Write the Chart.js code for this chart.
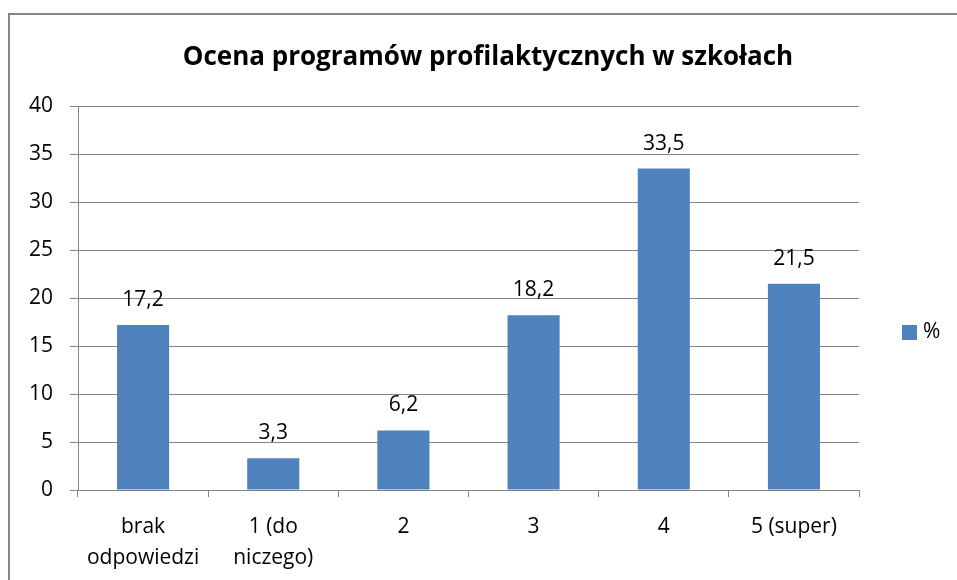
<!DOCTYPE html>
<html>
<head>
<meta charset="utf-8">
<script src="https://cdn.jsdelivr.net/npm/chart.js@4.4.1/dist/chart.umd.min.js"></script>
<style>
html,body{margin:0;padding:0;background:#fff;}
#wrap{width:957px;height:580px;position:relative;}
canvas{display:block;}
</style>
</head>
<body>
<div id="wrap"><canvas id="c" width="957" height="580"></canvas></div>
<script>
const chartTitle = 'Ocena programów profilaktycznych w szkołach';
const categories = [['brak', 'odpowiedzi'], ['1 (do', 'niczego)'], '2', '3', '4', '5 (super)'];
const seriesName = '%';
const values = [17.2, 3.3, 6.2, 18.2, 33.5, 21.5];
const yTicks = [0, 5, 10, 15, 20, 25, 30, 35, 40];

const FONT = "'Open Sans', 'Liberation Sans', sans-serif";
const GRID = '#868686';
const BAR = '#4F81BD';

const framePlugin = {
  id: 'frame',
  beforeDraw(chart) {
    const ctx = chart.ctx;
    ctx.save();
    ctx.fillStyle = '#fff';
    ctx.fillRect(0, 0, chart.width, chart.height);
    ctx.strokeStyle = GRID;
    ctx.lineWidth = 2;
    ctx.strokeRect(9, 14, chart.width + 20, chart.height + 20);
    ctx.restore();
  },
  afterLayout(chart) {
    if (chart.titleBlock) {
      chart.titleBlock.left = 19;
      chart.titleBlock.right = chart.width;
    }
  }
};

const valueLabels = {
  id: 'valueLabels',
  afterDatasetsDraw(chart) {
    const ctx = chart.ctx;
    ctx.save();
    ctx.font = '21px ' + FONT;
    ctx.fillStyle = '#000';
    ctx.textAlign = 'center';
    ctx.textBaseline = 'middle';
    chart.data.datasets.forEach((ds, di) => {
      chart.getDatasetMeta(di).data.forEach((bar, i) => {
        const txt = String(ds.data[i]).replace('.', ',');
        ctx.fillText(txt, bar.x, bar.y - 25);
      });
    });
    ctx.restore();
  }
};

const sideLegend = {
  id: 'sideLegend',
  afterDraw(chart) {
    const ctx = chart.ctx;
    const ds = chart.data.datasets[0];
    const x = chart.chartArea.right + 43;
    const y = 332;
    ctx.save();
    ctx.fillStyle = ds.backgroundColor;
    ctx.fillRect(x, y - 7, 15, 15);
    ctx.fillStyle = '#000';
    ctx.font = '21px ' + FONT;
    ctx.textAlign = 'left';
    ctx.textBaseline = 'middle';
    ctx.fillText(ds.label, x + 21, y);
    ctx.restore();
  }
};

new Chart(document.getElementById('c'), {
  type: 'bar',
  data: {
    labels: categories,
    datasets: [{
      label: seriesName,
      data: values,
      backgroundColor: BAR,
      borderWidth: 0,
      barPercentage: 0.5,
      categoryPercentage: 0.8
    }]
  },
  options: {
    responsive: false,
    animation: false,
    layout: { padding: { left: 0, right: 98, top: 0, bottom: 0 } },
    plugins: {
      legend: { display: false },
      tooltip: { enabled: false },
      title: {
        display: true,
        text: chartTitle,
        color: '#000',
        font: { family: FONT, size: 26, weight: 'bold' },
        padding: { top: 42, bottom: 33 }
      }
    },
    scales: {
      x: {
        grid: { display: true, drawOnChartArea: false, drawTicks: true, tickLength: 7, color: GRID, offset: true },
        border: { display: true, color: GRID, width: 1 },
        ticks: { color: '#000', font: { family: FONT, size: 21, lineHeight: 1.45 }, padding: 15, maxRotation: 0, autoSkip: false },
        afterFit(scale) { scale.height = 90; }
      },
      y: {
        min: 0,
        max: 40,
        afterBuildTicks(scale) { scale.ticks = yTicks.map(v => ({ value: v })); },
        grid: { color: GRID, tickLength: 8, drawTicks: true },
        border: { display: true, color: GRID, width: 1 },
        ticks: { color: '#000', font: { family: FONT, size: 21 }, padding: 17 },
        afterFit(scale) { scale.width = 78; }
      }
    }
  },
  plugins: [framePlugin, valueLabels, sideLegend]
});
</script>
</body>
</html>
